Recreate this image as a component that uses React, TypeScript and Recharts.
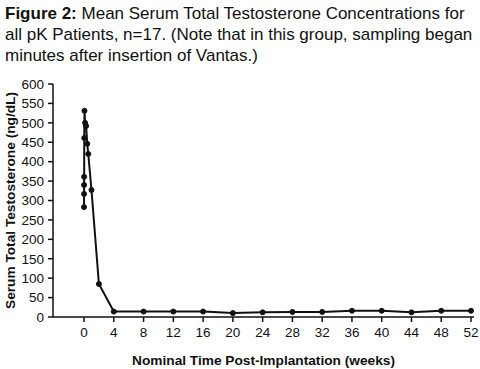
import React from "react";
import { LineChart, Line, XAxis, YAxis } from "recharts";

// time in weeks after implantation; first cluster is hours/days after insertion
const weeks = [0, 0.004, 0.008, 0.016, 0.03, 0.06, 0.14, 0.28, 0.43, 0.57, 1, 2, 4, 8, 12, 16, 20, 24, 28, 32, 36, 40, 44, 48, 52];
const testosterone = [283, 317, 340, 361, 461, 531, 500, 492, 446, 420, 327, 85, 14, 14, 14, 14, 10, 12, 13, 13, 16, 16, 12, 16, 16];
const xTicks = [0, 4, 8, 12, 16, 20, 24, 28, 32, 36, 40, 44, 48, 52];
const yTicks = [0, 50, 100, 150, 200, 250, 300, 350, 400, 450, 500, 550, 600];

const data = weeks.map((w, i) => ({ week: w, value: testosterone[i] }));

const font = "'Liberation Sans', Arial, Helvetica, sans-serif";

export default function App() {
  return (
    <div style={{ position: "absolute", left: 0, top: 0, width: 480, height: 369, background: "#fff", fontFamily: font }}>
      <div style={{ position: "absolute", left: 5, top: 3, fontSize: 17, lineHeight: "21px", color: "#111", zIndex: 2, whiteSpace: "nowrap" }}>
        <b>Figure 2:</b> Mean Serum Total Testosterone Concentrations for<br />
        all pK Patients, n=17. (Note that in this group, sampling began<br />
        minutes after insertion of Vantas.)
      </div>
      <LineChart width={480} height={369} data={data} margin={{ top: 84, right: 6, bottom: 0, left: 0 }}>
        <XAxis
          dataKey="week"
          type="number"
          domain={[-4.17, 52.4]}
          ticks={xTicks}
          allowDataOverflow
          stroke="#111"
          strokeWidth={1.5}
          tickSize={5}
          tickMargin={5}
          height={52}
          tick={{ fill: "#111", fontSize: 13.5, fontFamily: font }}
          label={{ value: "Nominal Time Post-Implantation (weeks)", position: "insideBottom", offset: 4, fill: "#111", fontSize: 13.7, fontWeight: "bold", fontFamily: font }}
        />
        <YAxis
          type="number"
          domain={[0, 600]}
          ticks={yTicks}
          interval={0}
          stroke="#111"
          strokeWidth={1.5}
          tickSize={5}
          tickMargin={4}
          width={53}
          tick={{ fill: "#111", fontSize: 13.5, fontFamily: font }}
          label={{ value: "Serum Total Testosterone (ng/dL)", angle: -90, position: "insideLeft", offset: 10, style: { textAnchor: "middle" }, fill: "#111", fontSize: 13.7, fontWeight: "bold", fontFamily: font }}
        />
        <Line
          dataKey="value"
          type="linear"
          stroke="#111"
          strokeWidth={2}
          dot={{ r: 2.5, fill: "#111", stroke: "#111", strokeWidth: 1 }}
          isAnimationActive={false}
        />
      </LineChart>
    </div>
  );
}
